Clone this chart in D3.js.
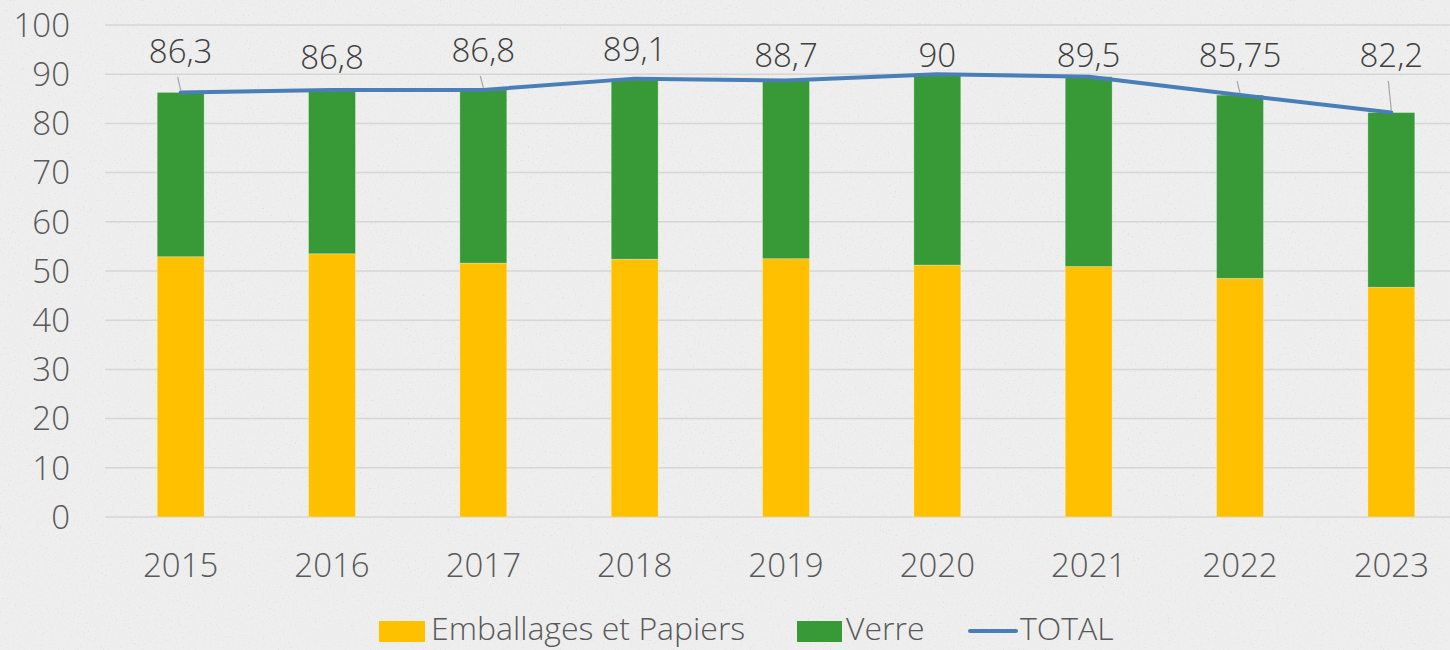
<!DOCTYPE html>
<html lang="fr">

<head>
    <meta charset="utf-8">
    <title>Emballages, papiers et verre</title>
    <script src="https://cdn.jsdelivr.net/npm/d3@7"></script>
    <style>
        body {
            margin: 0;
            background: #ededed;
        }
        svg {
            display: block;
            font-family: "Open Sans", "Noto Sans", sans-serif;
            font-weight: 300;
        }
        .grid line {
            stroke: #d6d6d6;
            stroke-width: 1.5px;
        }
        .tick-label {
            fill: #595959;
            font-size: 33px;
        }
        .data-label {
            fill: #404040;
            font-size: 33px;
        }
        .legend text {
            fill: #595959;
            font-size: 32px;
        }
    </style>
</head>

<body>
    <script>
        // values
        const years = ['2015', '2016', '2017', '2018', '2019', '2020', '2021', '2022', '2023'];
        const emballages = [52.9, 53.5, 51.6, 52.4, 52.5, 51.2, 50.9, 48.5, 46.7];
        const total = [86.3, 86.8, 86.8, 89.1, 88.7, 90, 89.5, 85.75, 82.2];
        const verre = total.map((t, i) => +(t - emballages[i]).toFixed(2));
        const totalLabels = ['86,3', '86,8', '86,8', '89,1', '88,7', '90', '89,5', '85,75', '82,2'];
        const yTicks = [0, 10, 20, 30, 40, 50, 60, 70, 80, 90, 100];

        const colors = { emb: '#ffc000', verre: '#389a36', total: '#4a7eb6' };

        const W = 1450, H = 650;
        const plotLeft = 105, plotRight = 1467, plotTop = 25, plotBottom = 517;

        const svg = d3.select('body').append('svg')
            .attr('width', W)
            .attr('height', H);

        // paper texture
        const defs = svg.append('defs');
        const f = defs.append('filter').attr('id', 'paper')
            .attr('x', 0).attr('y', 0).attr('width', '100%').attr('height', '100%');
        f.append('feTurbulence')
            .attr('type', 'fractalNoise')
            .attr('baseFrequency', 0.6)
            .attr('numOctaves', 3)
            .attr('seed', 4);
        f.append('feColorMatrix')
            .attr('type', 'matrix')
            .attr('values', '0 0 0 0 0.5  0 0 0 0 0.5  0 0 0 0 0.5  0 0 0 -2.2 0.85');
        svg.append('rect')
            .attr('width', W).attr('height', H)
            .attr('fill', '#eeeeee');
        svg.append('rect')
            .attr('width', W).attr('height', H)
            .attr('filter', 'url(#paper)')
            .attr('opacity', 0.45);

        // scales
        const x = d3.scaleBand()
            .domain(years)
            .range([plotLeft, plotRight])
            .paddingInner(0.69)
            .paddingOuter(0.345);
        const y = d3.scaleLinear()
            .domain([0, 100])
            .range([plotBottom, plotTop]);
        const cx = d => x(d) + x.bandwidth() / 2;

        // gridlines
        svg.append('g')
            .attr('class', 'grid')
            .selectAll('line')
            .data(yTicks)
            .join('line')
                .attr('x1', plotLeft)
                .attr('x2', W)
                .attr('y1', d => y(d))
                .attr('y2', d => y(d));

        // y axis labels
        svg.append('g')
            .selectAll('text')
            .data(yTicks)
            .join('text')
                .attr('class', 'tick-label')
                .attr('x', 70)
                .attr('y', d => y(d))
                .attr('dy', '0.36em')
                .attr('text-anchor', 'end')
                .text(d => d);

        // x axis labels
        svg.append('g')
            .selectAll('text')
            .data(years)
            .join('text')
                .attr('class', 'tick-label')
                .attr('x', d => cx(d))
                .attr('y', 565)
                .attr('dy', '0.36em')
                .attr('text-anchor', 'middle')
                .text(d => d);

        // stacked bars
        const rows = years.map((yr, i) => ({ year: yr, emb: emballages[i], verre: verre[i] }));
        const stack = d3.stack().keys(['emb', 'verre'])(rows);

        svg.append('g')
            .selectAll('g')
            .data(stack)
            .join('g')
                .attr('fill', d => colors[d.key])
            .selectAll('rect')
            .data(d => d)
            .join('rect')
                .attr('x', d => x(d.data.year))
                .attr('width', x.bandwidth())
                .attr('y', d => y(d[1]))
                .attr('height', d => y(d[0]) - y(d[1]))
                .attr('stroke', 'rgba(255,255,255,0.35)')
                .attr('stroke-width', 0.8);

        // total line
        const line = d3.line()
            .x((d, i) => cx(years[i]))
            .y(d => y(d));
        svg.append('path')
            .attr('d', line(total))
            .attr('fill', 'none')
            .attr('stroke', colors.total)
            .attr('stroke-width', 4)
            .attr('stroke-linejoin', 'round')
            .attr('stroke-linecap', 'round');

        // data labels (label centre y in px, leader line when moved)
        const labelY = [51, 57, 50, 49, 55, 55, 55, 55, 55];
        const leader = [true, false, true, false, false, false, false, true, true];
        const labels = svg.append('g');
        total.forEach((v, i) => {
            const px = cx(years[i]);
            if (leader[i]) {
                labels.append('line')
                    .attr('x1', px - 3)
                    .attr('y1', labelY[i] + 26)
                    .attr('x2', px)
                    .attr('y2', y(v) - 2)
                    .attr('stroke', '#a6a6a6')
                    .attr('stroke-width', 1.2);
            }
            labels.append('text')
                .attr('class', 'data-label')
                .attr('x', px)
                .attr('y', labelY[i])
                .attr('dy', '0.36em')
                .attr('text-anchor', 'middle')
                .text(totalLabels[i]);
        });

        // legend
        const legend = svg.append('g').attr('class', 'legend');
        const ly = 631, base = 640;
        legend.append('rect')
            .attr('x', 379).attr('y', ly - 10).attr('width', 46).attr('height', 21)
            .attr('fill', colors.emb);
        legend.append('text')
            .attr('x', 431).attr('y', base)
            .text('Emballages et Papiers');
        legend.append('rect')
            .attr('x', 797).attr('y', ly - 10).attr('width', 45).attr('height', 21)
            .attr('fill', colors.verre);
        legend.append('text')
            .attr('x', 846).attr('y', base)
            .text('Verre');
        legend.append('line')
            .attr('x1', 970).attr('x2', 1016).attr('y1', ly).attr('y2', ly)
            .attr('stroke', colors.total)
            .attr('stroke-width', 4)
            .attr('stroke-linecap', 'round');
        legend.append('text')
            .attr('x', 1020).attr('y', base)
            .text('TOTAL');
    </script>
</body>

</html>
